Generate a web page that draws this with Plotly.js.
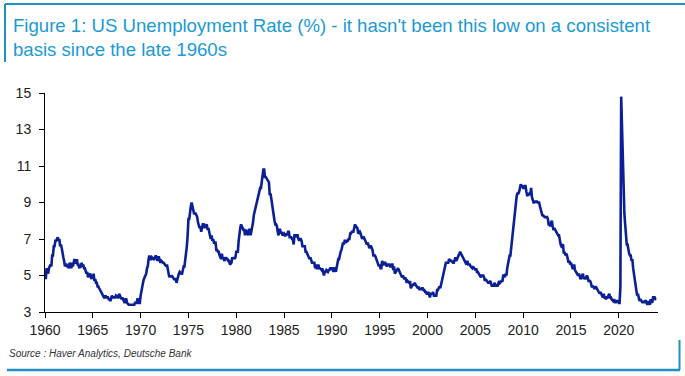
<!DOCTYPE html>
<html>
<head>
<meta charset="utf-8">
<script src="https://cdn.plot.ly/plotly-3.0.1.min.js"></script>
<style>html,body{margin:0;padding:0;background:#fff;}#chart{width:685px;height:376px;}</style>
</head>
<body>
<div id="chart"></div>
<script>
// US unemployment rate (%), monthly, Jan 1960 - Dec 2023 (one row per year)
const startYear = 1960;
const rates = [
  [5.2,4.8,5.4,5.2,5.1,5.4,5.5,5.6,5.5,6.1,6.1,6.6],
  [6.6,6.9,6.9,7.0,7.1,6.9,7.0,6.6,6.7,6.5,6.1,6.0],
  [5.8,5.5,5.6,5.6,5.5,5.5,5.4,5.7,5.6,5.4,5.7,5.5],
  [5.7,5.9,5.7,5.7,5.9,5.6,5.6,5.4,5.5,5.5,5.7,5.5],
  [5.6,5.4,5.4,5.3,5.1,5.2,4.9,5.0,5.1,5.1,4.8,5.0],
  [4.9,5.1,4.7,4.8,4.6,4.6,4.4,4.4,4.3,4.2,4.1,4.0],
  [4.0,3.8,3.8,3.8,3.9,3.8,3.8,3.8,3.7,3.7,3.6,3.8],
  [3.9,3.8,3.8,3.8,3.8,3.9,3.8,3.8,3.8,4.0,3.9,3.8],
  [3.7,3.8,3.7,3.5,3.5,3.7,3.7,3.5,3.4,3.4,3.4,3.4],
  [3.4,3.4,3.4,3.4,3.4,3.5,3.5,3.5,3.7,3.7,3.5,3.5],
  [3.9,4.2,4.4,4.6,4.8,4.9,5.0,5.1,5.4,5.5,5.9,6.1],
  [5.9,5.9,6.0,5.9,5.9,5.9,6.0,6.1,6.0,5.8,6.0,6.0],
  [5.8,5.7,5.8,5.7,5.7,5.7,5.6,5.6,5.5,5.6,5.3,5.2],
  [4.9,5.0,4.9,5.0,4.9,4.9,4.8,4.8,4.8,4.6,4.8,4.9],
  [5.1,5.2,5.1,5.1,5.1,5.4,5.5,5.5,5.9,6.0,6.6,7.2],
  [8.1,8.1,8.6,8.8,9.0,8.8,8.6,8.4,8.4,8.4,8.3,8.2],
  [7.9,7.7,7.6,7.7,7.4,7.6,7.8,7.8,7.6,7.7,7.8,7.8],
  [7.5,7.6,7.4,7.2,7.0,7.2,6.9,7.0,6.8,6.8,6.8,6.4],
  [6.4,6.3,6.3,6.1,6.0,5.9,6.2,5.9,6.0,5.8,5.9,6.0],
  [5.9,5.9,5.8,5.8,5.6,5.7,5.7,6.0,5.9,6.0,5.9,6.0],
  [6.3,6.3,6.3,6.9,7.5,7.6,7.8,7.7,7.5,7.5,7.5,7.2],
  [7.5,7.4,7.4,7.2,7.5,7.5,7.2,7.4,7.6,7.9,8.3,8.5],
  [8.6,8.9,9.0,9.3,9.4,9.6,9.8,9.8,10.1,10.4,10.8,10.8],
  [10.4,10.4,10.3,10.2,10.1,10.1,9.4,9.5,9.2,8.8,8.5,8.3],
  [8.0,7.8,7.8,7.7,7.4,7.2,7.5,7.5,7.3,7.4,7.2,7.3],
  [7.3,7.2,7.2,7.3,7.2,7.4,7.4,7.1,7.1,7.1,7.0,7.0],
  [6.7,7.2,7.2,7.1,7.2,7.2,7.0,6.9,7.0,7.0,6.9,6.6],
  [6.6,6.6,6.6,6.3,6.3,6.2,6.1,6.0,5.9,6.0,5.8,5.7],
  [5.7,5.7,5.7,5.4,5.6,5.4,5.4,5.6,5.4,5.4,5.3,5.3],
  [5.4,5.2,5.0,5.2,5.2,5.3,5.2,5.2,5.3,5.3,5.4,5.4],
  [5.4,5.3,5.2,5.4,5.4,5.2,5.5,5.7,5.9,5.9,6.2,6.3],
  [6.4,6.6,6.8,6.7,6.9,6.9,6.8,6.9,6.9,7.0,7.0,7.3],
  [7.3,7.4,7.4,7.4,7.6,7.8,7.7,7.6,7.6,7.3,7.4,7.4],
  [7.3,7.1,7.0,7.1,7.1,7.0,6.9,6.8,6.7,6.8,6.6,6.5],
  [6.6,6.6,6.5,6.4,6.1,6.1,6.1,6.0,5.9,5.8,5.6,5.5],
  [5.6,5.4,5.4,5.8,5.6,5.6,5.7,5.7,5.6,5.5,5.6,5.6],
  [5.6,5.5,5.5,5.6,5.6,5.3,5.5,5.1,5.2,5.2,5.4,5.4],
  [5.3,5.2,5.2,5.1,4.9,5.0,4.9,4.8,4.9,4.7,4.6,4.7],
  [4.6,4.6,4.7,4.3,4.4,4.5,4.5,4.5,4.6,4.5,4.4,4.4],
  [4.3,4.4,4.2,4.3,4.2,4.3,4.3,4.2,4.2,4.1,4.1,4.0],
  [4.0,4.1,4.0,3.8,4.0,4.0,4.0,4.1,3.9,3.9,3.9,3.9],
  [4.2,4.2,4.3,4.4,4.3,4.5,4.6,4.9,5.0,5.3,5.5,5.7],
  [5.7,5.7,5.7,5.9,5.8,5.8,5.8,5.7,5.7,5.7,5.9,6.0],
  [5.8,5.9,5.9,6.0,6.1,6.3,6.2,6.1,6.1,6.0,5.8,5.7],
  [5.7,5.6,5.8,5.6,5.6,5.6,5.5,5.4,5.4,5.5,5.4,5.4],
  [5.3,5.4,5.2,5.2,5.1,5.0,5.0,4.9,5.0,5.0,5.0,4.9],
  [4.7,4.8,4.7,4.7,4.6,4.6,4.7,4.7,4.5,4.4,4.5,4.4],
  [4.6,4.5,4.4,4.5,4.4,4.6,4.7,4.6,4.7,4.7,4.7,5.0],
  [5.0,4.9,5.1,5.0,5.4,5.6,5.8,6.1,6.1,6.5,6.8,7.3],
  [7.8,8.3,8.7,9.0,9.4,9.5,9.5,9.6,9.8,10.0,9.9,9.9],
  [9.8,9.8,9.9,9.9,9.6,9.4,9.4,9.5,9.5,9.4,9.8,9.3],
  [9.1,9.0,9.0,9.1,9.0,9.1,9.0,9.0,9.0,8.8,8.6,8.5],
  [8.3,8.3,8.2,8.2,8.2,8.2,8.2,8.1,7.8,7.8,7.7,7.9],
  [8.0,7.7,7.5,7.6,7.5,7.5,7.3,7.2,7.2,7.2,6.9,6.7],
  [6.6,6.7,6.7,6.2,6.3,6.1,6.2,6.1,5.9,5.7,5.8,5.6],
  [5.7,5.5,5.4,5.4,5.6,5.3,5.2,5.1,5.0,5.0,5.1,5.0],
  [4.8,4.9,5.0,5.1,4.8,4.9,4.8,4.9,5.0,4.9,4.7,4.7],
  [4.7,4.6,4.4,4.4,4.4,4.3,4.3,4.4,4.3,4.2,4.2,4.1],
  [4.0,4.1,4.0,4.0,3.8,4.0,3.8,3.8,3.7,3.8,3.8,3.9],
  [4.0,3.8,3.8,3.7,3.6,3.6,3.7,3.6,3.5,3.6,3.6,3.6],
  [3.5,3.5,4.4,14.8,13.2,11.0,10.2,8.4,7.8,6.8,6.7,6.7],
  [6.4,6.2,6.1,6.1,5.8,5.9,5.4,5.1,4.7,4.5,4.2,3.9],
  [4.0,3.8,3.6,3.7,3.6,3.6,3.5,3.6,3.5,3.6,3.6,3.5],
  [3.4,3.6,3.5,3.4,3.7,3.6,3.5,3.8,3.8,3.8,3.7,3.7]
];
const yTicks = [3, 5, 7, 9, 11, 13, 15];
const xTicks = [1960,1965,1970,1975,1980,1985,1990,1995,2000,2005,2010,2015,2020];
const titleText = "Figure 1: US Unemployment Rate (%) - it hasn't been this low on a consistent<br>basis since the late 1960s";
const sourceText = "Source : Haver Analytics, Deutsche Bank";

const xs = [], ys = [];
rates.forEach((row, i) => row.forEach((v, m) => { xs.push(startYear + i + m / 12); ys.push(v); }));

// pixel helpers for the frame (plot area 45..658 x, 93..312 y)
const L = 45, R = 658, T = 93, B = 312;
const px = p => (p - L) / (R - L);
const py = p => (B - p) / (B - T);
const frameColor = "#1f8fc4";

const trace = {
  x: xs, y: ys, type: "scatter", mode: "lines",
  line: { color: "#0b1f96", width: 2.6 }, hoverinfo: "skip"
};

const tickFont = { family: "Liberation Sans, Arial, sans-serif", size: 14, color: "#222" };

const layout = {
  width: 685, height: 376,
  margin: { l: L, r: 685 - R, t: T, b: 376 - B, pad: 0 },
  paper_bgcolor: "#fff", plot_bgcolor: "#fff",
  showlegend: false,
  xaxis: {
    range: [1960, 2024.1], tickvals: xTicks, ticktext: xTicks.map(String),
    ticks: "outside", ticklen: 5, tickcolor: "#000", tickwidth: 1,
    showline: true, linecolor: "#000", linewidth: 1,
    showgrid: false, zeroline: false, tickfont: tickFont, fixedrange: true
  },
  yaxis: {
    range: [3, 15], tickvals: yTicks, ticktext: yTicks.map(String),
    ticks: "outside", ticklen: 5, tickcolor: "#000", tickwidth: 1,
    ticklabelstandoff: 5,
    showline: true, linecolor: "#000", linewidth: 1,
    showgrid: false, zeroline: false, tickfont: tickFont, fixedrange: true
  },
  annotations: [
    {
      text: titleText, xref: "paper", yref: "paper",
      x: px(11), y: py(13), xanchor: "left", yanchor: "top", align: "left",
      showarrow: false,
      font: { family: "Liberation Sans, Arial, sans-serif", size: 18.6, color: "#1a9ad6" }
    },
    {
      text: sourceText, xref: "paper", yref: "paper",
      x: px(7), y: py(353), xanchor: "left", yanchor: "middle",
      showarrow: false,
      font: { family: "Liberation Sans, Arial, sans-serif", size: 10, color: "#333", style: "italic" }
    }
  ],
  shapes: [
    { type: "line", xref: "paper", yref: "paper", x0: px(5), x1: px(685), y0: py(4), y1: py(4), line: { color: frameColor, width: 2 } },
    { type: "line", xref: "paper", yref: "paper", x0: px(5), x1: px(5), y0: py(4), y1: py(62), line: { color: frameColor, width: 2 } },
    { type: "line", xref: "paper", yref: "paper", x0: px(7), x1: px(680), y0: py(370), y1: py(370), line: { color: frameColor, width: 2.5 } },
    { type: "line", xref: "paper", yref: "paper", x0: px(679.5), x1: px(679.5), y0: py(340), y1: py(370), line: { color: frameColor, width: 2 } }
  ]
};

Plotly.newPlot("chart", [trace], layout, { displayModeBar: false, staticPlot: true });
</script>
</body>
</html>
